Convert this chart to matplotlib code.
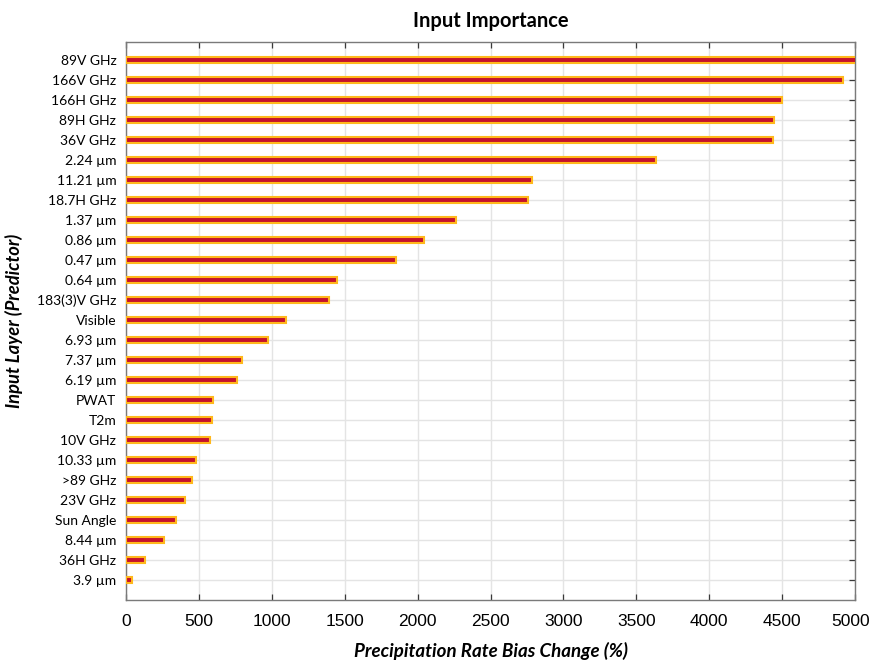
import matplotlib
matplotlib.use("Agg")
import matplotlib.pyplot as plt

# Input predictors, ordered from most to least important
predictors = [
    "89V GHz", "166V GHz", "166H GHz", "89H GHz", "36V GHz", "2.24 µm",
    "11.21 µm", "18.7H GHz", "1.37 µm", "0.86 µm", "0.47 µm", "0.64 µm",
    "183(3)V GHz", "Visible", "6.93 µm", "7.37 µm", "6.19 µm", "PWAT",
    "T2m", "10V GHz", "10.33 µm", ">89 GHz", "23V GHz", "Sun Angle",
    "8.44 µm", "36H GHz", "3.9 µm",
]

# Precipitation rate bias change (%) when each input is perturbed
bias_change = [
    6500, 4920, 4500, 4445, 4435, 3635,
    2785, 2755, 2263, 2042, 1852, 1447,
    1395, 1095, 974, 796, 759, 599,
    590, 576, 482, 455, 405, 343,
    261, 128, 39,
]

x_ticks = [0, 500, 1000, 1500, 2000, 2500, 3000, 3500, 4000, 4500, 5000]

fig = plt.figure(figsize=(8.72, 6.61), dpi=100)
ax = fig.add_axes([126 / 872, 61 / 661, 729 / 872, 558 / 661])

y = list(range(len(predictors)))
ax.barh(y, bias_change, height=0.34, color="#c4102c",
        edgecolor="#ffb81c", linewidth=1.5, zorder=3)

ax.set_xlim(0, 5000)
ax.set_ylim(27.0, -0.9)
ax.set_xticks(x_ticks)
# the rightmost label is placed separately so it stays on the canvas
ax.set_xticklabels([str(t) for t in x_ticks[:-1]] + [""],
                   fontfamily="Liberation Sans", fontsize=12.5)
ax.annotate(str(x_ticks[-1]), xy=(x_ticks[-1], 0),
            xycoords=("data", "axes fraction"), xytext=(-3, -10),
            textcoords="offset points", ha="center", va="top",
            fontfamily="Liberation Sans", fontsize=12.5)
ax.set_yticks(y)
ax.set_yticklabels(predictors, fontfamily=["Lato", "DejaVu Sans"], fontsize=10)

ax.tick_params(axis="both", direction="in", length=4, width=0.9,
               color="#3a3a3a", top=True, right=True)
ax.tick_params(axis="x", pad=10)
ax.tick_params(axis="y", pad=7)
ax.grid(True, color="#e4e4e4", linewidth=1.0, zorder=0)
ax.set_axisbelow(True)
for sp in ax.spines.values():
    sp.set_color("#7a7a7a")
    sp.set_linewidth(1.0)

ax.set_title("Input Importance", fontfamily="Lato", fontweight="bold",
             fontsize=14.5, pad=11)
fig.text(491 / 872, 10 / 661, "Precipitation Rate Bias Change (%)",
         fontfamily="Lato", fontweight="bold", fontstyle="italic",
         fontsize=13.5, ha="center", va="center")
ax.set_ylabel("Input Layer (Predictor)", fontfamily="Lato",
              fontweight="bold", fontstyle="italic", fontsize=13.2, labelpad=10)

fig.savefig("out.png", dpi=100)
